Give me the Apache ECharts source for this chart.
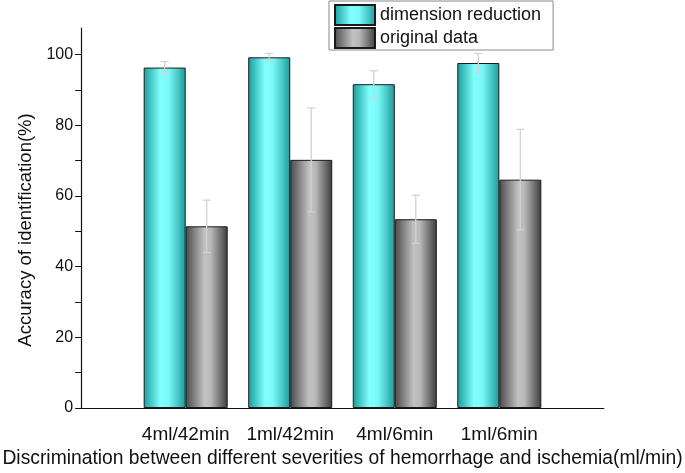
<!DOCTYPE html>
<html>
<head>
<meta charset="utf-8">
<script src="https://cdn.jsdelivr.net/npm/echarts@6/dist/echarts.min.js"></script>
<style>html,body{margin:0;padding:0;background:#fff}#c{width:685px;height:473px}</style>
</head>
<body>
<div id="c"></div>
<script>
const categories = ['4ml/42min', '1ml/42min', '4ml/6min', '1ml/6min'];
const dimReduction = [96.3, 99.2, 91.6, 97.6];
const dimReductionErr = [1.7, 1.1, 3.8, 2.7];
const originalData = [51.4, 70.2, 53.4, 64.6];
const originalErr = [7.4, 14.7, 6.8, 14.2];
const yLabelValues = [0, 20, 40, 60, 80, 100];
const yMinorValues = [10, 30, 50, 70, 90];

const BAR_W = 42;
const FONT = 'Liberation Sans, Arial, sans-serif';

const cyanGrad = new echarts.graphic.LinearGradient(0, 0, 1, 0, [
  {offset: 0, color: '#169e9a'},
  {offset: 0.4, color: '#82ffff'},
  {offset: 0.6, color: '#7af8f8'},
  {offset: 1, color: '#1a9c98'}
]);
const grayGrad = new echarts.graphic.LinearGradient(0, 0, 1, 0, [
  {offset: 0, color: '#4a4a4a'},
  {offset: 0.45, color: '#c2c2c2'},
  {offset: 0.6, color: '#b8b8b8'},
  {offset: 1, color: '#3c3c3c'}
]);

function errSeries(vals, errs, offset) {
  return {
    type: 'custom',
    z: 5,
    silent: true,
    data: categories.map((c, i) => [i + 1, vals[i], errs[i]]),
    renderItem: function (params, api) {
      const x = api.value(0), v = api.value(1), e = api.value(2);
      const hi = api.coord([x, v + e]);
      const lo = api.coord([x, v - e]);
      const cx = hi[0] + offset;
      const cap = 4;
      const style = {stroke: '#d2d2d2', lineWidth: 1.3, fill: null};
      return {
        type: 'group',
        children: [
          {type: 'line', shape: {x1: cx, y1: hi[1], x2: cx, y2: lo[1]}, style: style},
          {type: 'line', shape: {x1: cx - cap, y1: hi[1], x2: cx + cap, y2: hi[1]}, style: style},
          {type: 'line', shape: {x1: cx - cap, y1: lo[1], x2: cx + cap, y2: lo[1]}, style: style}
        ]
      };
    }
  };
}

const chart = echarts.init(document.getElementById('c'), null, {renderer: 'canvas'});
chart.setOption({
  animation: false,
  textStyle: {fontFamily: FONT},
  grid: {left: 80, right: 80, top: 28, bottom: 63},
  legend: {
    left: 329, top: 1,
    orient: 'vertical',
    icon: 'rect',
    itemWidth: 40, itemHeight: 20, itemGap: 1,
    padding: [3, 12, 1, 5],
    borderColor: '#888', borderWidth: 1,
    textStyle: {fontSize: 18, lineHeight: 20, color: '#111', fontFamily: FONT},
    data: ['dimension reduction', 'original data']
  },
  xAxis: {
    type: 'value', min: 0, max: 5, interval: 1,
    name: 'Discrimination between different severities of hemorrhage and ischemia(ml/min)',
    nameLocation: 'middle', nameGap: 41,
    nameTextStyle: {fontSize: 19.3, color: '#111', fontFamily: FONT},
    axisLine: {show: true, onZero: false, lineStyle: {color: '#111', width: 1.2}},
    axisTick: {show: false},
    splitLine: {show: false},
    axisLabel: {
      margin: 17, fontSize: 19, color: '#111', fontFamily: FONT,
      formatter: function (v) { return categories[v - 1] || ''; }
    }
  },
  yAxis: {
    type: 'value', min: 0, max: 107.5,
    name: 'Accuracy of identification(%)',
    nameLocation: 'middle', nameGap: 46,
    nameTextStyle: {fontSize: 18.5, color: '#111', fontFamily: FONT, padding: [0, 24, 0, 0]},
    axisLine: {show: true, lineStyle: {color: '#111', width: 1.2}},
    axisTick: {show: true, length: 6, customValues: yLabelValues.concat(yMinorValues), lineStyle: {color: '#111'}},
    splitLine: {show: false},
    axisLabel: {fontSize: 16, color: '#111', fontFamily: FONT, margin: 8, customValues: yLabelValues}
  },
  series: [
    {
      name: 'dimension reduction', type: 'bar', barWidth: BAR_W, barGap: '0%',
      itemStyle: {color: cyanGrad, borderColor: '#1a1a1a', borderWidth: 1},
      data: categories.map((c, i) => [i + 1, dimReduction[i]])
    },
    {
      name: 'original data', type: 'bar', barWidth: BAR_W, barGap: '0%',
      itemStyle: {color: grayGrad, borderColor: '#1a1a1a', borderWidth: 1},
      data: categories.map((c, i) => [i + 1, originalData[i]])
    },
    errSeries(dimReduction, dimReductionErr, -BAR_W / 2),
    errSeries(originalData, originalErr, BAR_W / 2)
  ]
});
</script>
</body>
</html>
